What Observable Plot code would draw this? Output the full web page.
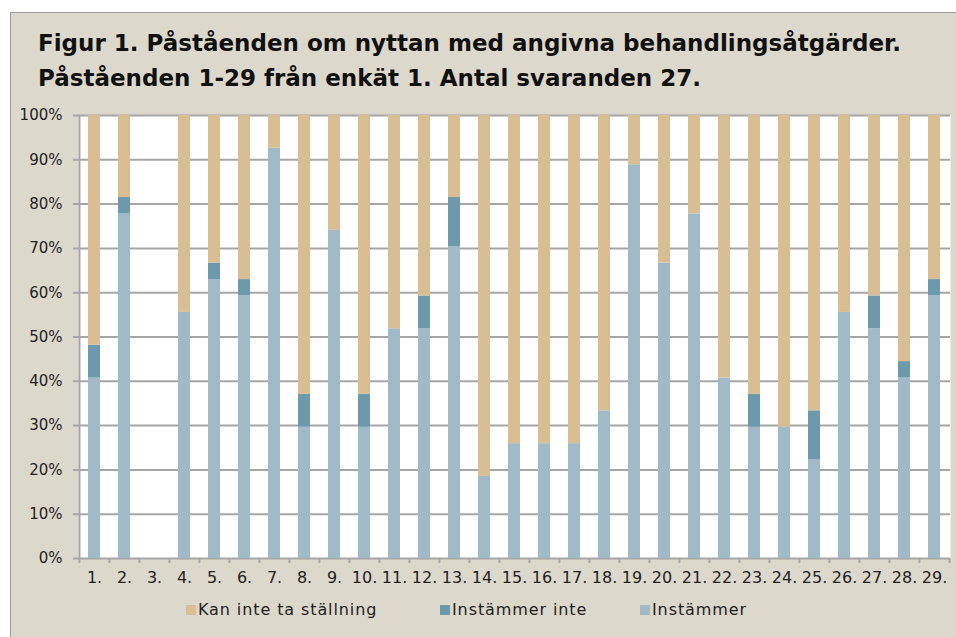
<!DOCTYPE html>
<html>
<head>
<meta charset="utf-8">
<script src="https://cdn.jsdelivr.net/npm/d3@7"></script>
<script src="https://cdn.jsdelivr.net/npm/@observablehq/plot@0.6"></script>
<style>
  html, body { margin: 0; padding: 0; background: #ffffff; }
  body { width: 956px; height: 637px; position: relative; overflow: hidden; font-family: "DejaVu Sans", sans-serif; }
  #panel { position: absolute; left: 10px; top: 12px; width: 960px; height: 640px; background: #ddd8cc; border-left: 1.5px solid #9c9c9c; border-top: 1.5px solid #9c9c9c; }
  #title { position: absolute; left: 38px; top: 26px; font-weight: bold; font-size: 23px; line-height: 35px; color: #111; white-space: nowrap; }
  #chart { position: absolute; left: 0; top: 0; }
  #legend { position: absolute; top: 600px; left: 0; font-size: 16px; letter-spacing: 0.9px; color: #222; }
  .item { position: absolute; white-space: nowrap; display: flex; align-items: center; }
  .sw { width: 10px; height: 10px; margin-right: 2px; display: inline-block; }
</style>
</head>
<body>
<div id="panel"></div>
<div id="title">Figur 1. Påståenden om nyttan med angivna behandlingsåtgärder.<br>Påståenden 1-29 från enkät 1. Antal svaranden 27.</div>
<div id="chart"></div>
<div id="legend"></div>
<script>
const categories = ["1.","2.","3.","4.","5.","6.","7.","8.","9.","10.","11.","12.","13.","14.","15.","16.","17.","18.","19.","20.","21.","22.","23.","24.","25.","26.","27.","28.","29."];
const respondents = 27;
// counts per statement (of 27 respondents)
const instammer      = [11,21,0,15,17,16,25,8,20,8,14,14,19,5,7,7,7,9,24,18,21,11,8,8,6,15,14,11,16];
const instammerInte  = [2,1,0,0,1,1,0,2,0,2,0,2,3,0,0,0,0,0,0,0,0,0,2,0,3,0,2,1,1];
const kanInteTa      = [14,5,0,12,9,10,2,17,7,17,13,11,5,22,20,20,20,18,3,9,6,16,17,19,18,12,11,15,10];
const seriesStack = ["Instämmer", "Instämmer inte", "Kan inte ta ställning"]; // bottom to top
const seriesLegend = ["Kan inte ta ställning", "Instämmer inte", "Instämmer"];
const seriesColors = ["#a0bbc7", "#6c99ab", "#d9be94"];
const yTicks = [0,10,20,30,40,50,60,70,80,90,100];

const seriesValues = [instammer, instammerInte, kanInteTa];
const rows = [];
categories.forEach((c, i) => {
  seriesStack.forEach((s, j) => {
    rows.push({cat: c, series: s, pct: seriesValues[j][i] / respondents * 100});
  });
});

const W = 956, H = 600, ML = 78, MR = 6, MT = 115, MB = 42;
const bw = (W - ML - MR) / categories.length;
const grid = "#a6a6a6";

const chart = Plot.plot({
  width: W, height: H,
  marginLeft: ML, marginRight: MR, marginTop: MT, marginBottom: MB,
  style: {background: "transparent", fontFamily: "DejaVu Sans, sans-serif", fontSize: "15px", color: "#222", overflow: "visible"},
  x: {domain: categories, padding: 0, label: null},
  y: {domain: [0, 100], label: null},
  color: {domain: seriesStack, range: seriesColors},
  marks: [
    Plot.frame({fill: "white", stroke: null}),
    Plot.ruleY(yTicks, {y: d => d, stroke: grid, strokeWidth: 2, insetLeft: -5}),
    Plot.ruleX([categories[0]], {x: d => d, dx: -bw / 2, y1: 0, y2: 100, stroke: grid, strokeWidth: 2}),
    Plot.ruleX(categories, {x: d => d, dx: -bw / 2, y1: 0, y2: 0, insetBottom: -5, stroke: grid, strokeWidth: 2}),
    Plot.ruleX([categories[categories.length - 1]], {x: d => d, dx: bw / 2, y1: 0, y2: 0, insetBottom: -5, stroke: grid, strokeWidth: 2}),
    Plot.barY(rows, {x: "cat", y: "pct", fill: "series", insetLeft: 9, insetRight: 9}),
    Plot.axisY({ticks: yTicks, tickSize: 0, tickPadding: 16, tickFormat: d => d + "%", fontSize: 15}),
    Plot.axisX({tickSize: 0, tickPadding: 13, fontSize: 16})
  ]
});
document.getElementById("chart").appendChild(chart);

const legend = document.getElementById("legend");
const legendX = [186, 440, 640];
seriesLegend.forEach((s, i) => {
  const it = document.createElement("div");
  it.className = "item";
  it.style.left = legendX[i] + "px";
  const sw = document.createElement("span");
  sw.className = "sw";
  sw.style.background = seriesColors[seriesStack.indexOf(s)];
  it.appendChild(sw);
  it.appendChild(document.createTextNode(s));
  legend.appendChild(it);
});
</script>
</body>
</html>
